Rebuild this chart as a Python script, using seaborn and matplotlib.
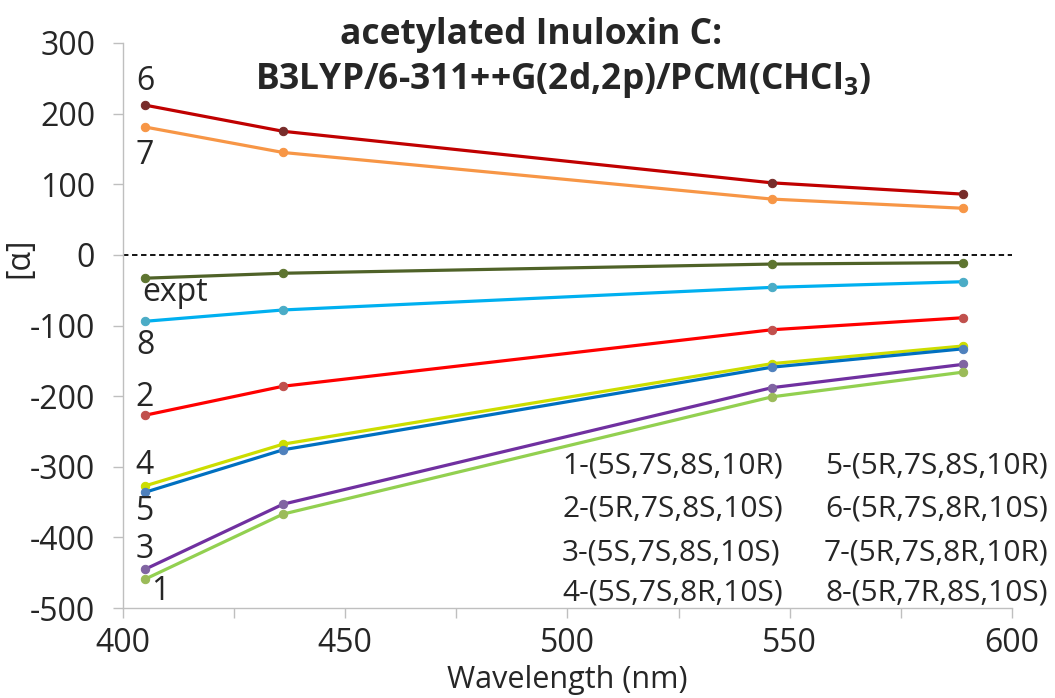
import matplotlib
matplotlib.use("Agg")
import matplotlib.pyplot as plt
import seaborn as sns
import pandas as pd
from matplotlib.ticker import MultipleLocator

wavelengths = [405, 436, 546, 589]
s6 = [212, 175, 102, 86]
s7 = [181, 145, 79, 66]
expt = [-33, -26, -13, -11]
s8 = [-94, -78, -46, -38]
s2 = [-227, -186, -106, -89]
s4 = [-327, -268, -154, -129]
s5 = [-336, -276, -159, -133]
s3 = [-445, -353, -188, -155]
s1 = [-459, -367, -201, -166]

series_names = ["6", "7", "expt", "8", "2", "4", "5", "3", "1"]
series_values = [s6, s7, expt, s8, s2, s4, s5, s3, s1]
line_colors = ["#C00000", "#F79646", "#4F6228", "#00B0F0", "#FF0000",
               "#CCDD00", "#0070C0", "#7030A0", "#92D050"]
marker_colors = ["#772C2A", "#F79646", "#5E7530", "#4BACC6", "#C0504D",
                 "#CCDD00", "#4F81BD", "#8064A2", "#9BBB59"]

legend_left = ["1-(5S,7S,8S,10R)", "2-(5R,7S,8S,10S)", "3-(5S,7S,8S,10S)", "4-(5S,7S,8R,10S)"]
legend_right = ["5-(5R,7S,8S,10R)", "6-(5R,7S,8R,10S)", "7-(5R,7S,8R,10R)", "8-(5R,7R,8S,10S)"]

sns.set_theme(style="white")
plt.rcParams['font.family'] = ['Open Sans', 'DejaVu Sans']
plt.rcParams['axes.unicode_minus'] = False

FS = 23
LFS = 21.5

fig = plt.figure(figsize=(10.55, 6.98), dpi=100)
ax = fig.add_axes([0.1166, 0.1289, 0.8426, 0.8095])

rows = []
for name, vals in zip(series_names, series_values):
    for w, v in zip(wavelengths, vals):
        rows.append({"series": name, "wavelength": w, "alpha": v})
df = pd.DataFrame(rows)

for name, lc, mc in zip(series_names, line_colors, marker_colors):
    sub = df[df["series"] == name]
    sns.lineplot(data=sub, x="wavelength", y="alpha", ax=ax, color=lc,
                 linewidth=2.3, marker="o", markersize=6,
                 markerfacecolor=mc, markeredgecolor=mc, zorder=3)

ax.axhline(0, color="black", linestyle=(0, (3, 2)), linewidth=1.3, zorder=2)

ax.set_xlim(400, 600)
ax.set_ylim(-500, 300)
ax.yaxis.set_major_locator(MultipleLocator(100))
ax.set_xticks([400, 425, 450, 475, 500, 525, 550, 575, 600])
ax.set_xticklabels(["400", "", "450", "", "500", "", "550", "", "600"])
ax.tick_params(axis="both", which="major", length=7, width=1, color="#BFBFBF",
               labelsize=FS, direction="out", bottom=True, left=True)
ax.tick_params(axis="x", pad=7)
ax.tick_params(axis="y", pad=13)
for side in ["top", "right"]:
    ax.spines[side].set_visible(False)
for side in ["left", "bottom"]:
    ax.spines[side].set_color("#BFBFBF")
    ax.spines[side].set_linewidth(1)

ax.set_xlabel("Wavelength (nm)", fontsize=22)
ax.set_ylabel("[α]", fontsize=FS)
ax.xaxis.set_label_coords(0.5, -0.100)
ax.yaxis.set_label_coords(-0.097, 0.62)

fig.text(0.503, 0.950, "acetylated Inuloxin C:", ha="center", va="center",
         fontsize=25.5, fontweight="bold")
fig.text(0.534, 0.886, "B3LYP/6-311++G(2d,2p)/PCM(CHCl$_\\mathregular{3}$)", ha="center",
         va="center", fontsize=25.5, fontweight="bold")

# series labels
label_pos = {"6": (145, 82), "7": (145, 155), "expt": (175, 293), "8": (145, 345),
             "2": (145, 397), "4": (145, 466), "5": (145, 512), "3": (145, 550),
             "1": (160, 592)}
for name, (px, py) in label_pos.items():
    fig.text(px / 1055, 1 - py / 698, name, ha="center", va="center", fontsize=FS)

ys = [466, 509, 553, 593]
for t, y in zip(legend_left, ys):
    fig.text(562 / 1055, 1 - y / 698, t, ha="left", va="center", fontsize=LFS)
for t, y in zip(legend_right, ys):
    fig.text(1048 / 1055, 1 - y / 698, t, ha="right", va="center", fontsize=LFS)

fig.savefig("out.png", dpi=100)
